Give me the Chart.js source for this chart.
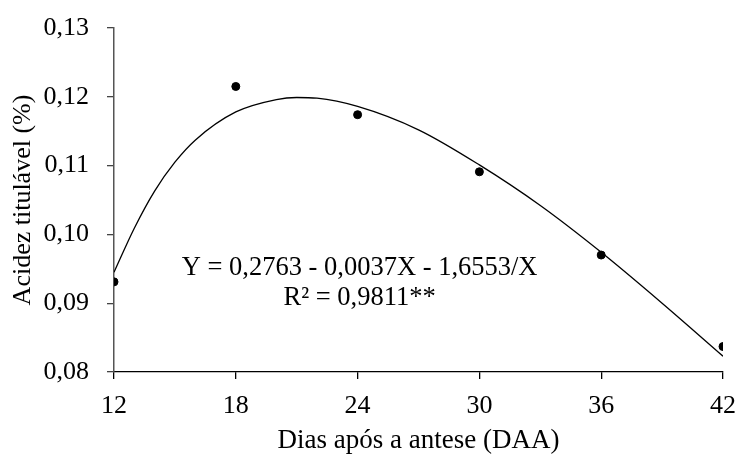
<!DOCTYPE html>
<html>
<head>
<meta charset="utf-8">
<script src="https://cdn.jsdelivr.net/npm/chart.js@4"></script>
<style>
    html, body { margin: 0; padding: 0; background: #fff; }
    #wrap { width: 740px; height: 455px; }
</style>
</head>
<body>
<div id="wrap"><canvas id="chart" width="740" height="455"></canvas></div>
<script>
// observed values
const days = [12, 18, 24, 30, 36, 42];
const acidity = [0.0931, 0.1215, 0.1174, 0.1091, 0.0970, 0.0837];

// fitted curve
const curveDays = [12, 13, 14, 15, 16, 18, 20, 21, 22, 24, 27, 30, 33, 36, 39, 42];
const curveAcidity = [0.0945, 0.1009, 0.1063, 0.1105, 0.1137, 0.1178, 0.1196, 0.1199, 0.1198, 0.1186, 0.1152, 0.1101, 0.1042, 0.0974, 0.0900, 0.0823];

const xTicks = [12, 18, 24, 30, 36, 42];
const yTicks = [0.08, 0.09, 0.10, 0.11, 0.12, 0.13];

const equationLines = ['Y = 0,2763 - 0,0037X - 1,6553/X', 'R² = 0,9811**'];

const FONT = "'Liberation Serif', 'Times New Roman', serif";

// draws the regression equation inside the plot
const equationPlugin = {
    id: 'equation',
    afterDatasetsDraw(chart) {
        const ctx = chart.ctx;
        const x = chart.scales.x.getPixelForValue(24.1);
        const y = chart.scales.y.getPixelForValue(0.0951);
        ctx.save();
        ctx.fillStyle = '#000';
        ctx.font = '26.5px ' + FONT;
        ctx.textAlign = 'center';
        ctx.textBaseline = 'middle';
        ctx.fillText(equationLines[0], x, y);
        ctx.fillText(equationLines[1], x, y + 30);
        ctx.restore();
    }
};

const ctx = document.getElementById('chart').getContext('2d');
new Chart(ctx, {
    type: 'scatter',
    data: {
        datasets: [{
            type: 'line',
            data: curveDays.map((d, i) => ({ x: d, y: curveAcidity[i] })),
            borderColor: '#000',
            borderWidth: 1.3,
            pointRadius: 0,
            tension: 0.4,
            cubicInterpolationMode: 'monotone',
            fill: false
        }, {
            data: days.map((d, i) => ({ x: d, y: acidity[i] })),
            backgroundColor: '#000',
            borderColor: '#000',
            pointRadius: 4,
            pointHoverRadius: 4
        }]
    },
    options: {
        responsive: false,
        animation: false,
        layout: { padding: { left: 0, right: 17, top: 28, bottom: 0 } },
        plugins: {
            legend: { display: false },
            tooltip: { enabled: false }
        },
        scales: {
            x: {
                type: 'linear',
                min: 12,
                max: 42,
                afterBuildTicks: axis => { axis.ticks = xTicks.map(v => ({ value: v })); },
                afterFit: axis => {
                    axis.height = 83;
                    axis.paddingRight = 0;
                    axis.paddingLeft = 0;
                },
                grid: {
                    drawOnChartArea: false,
                    drawTicks: true,
                    tickLength: 7,
                    color: '#000',
                    lineWidth: 1.3
                },
                border: { color: '#000', width: 1.3 },
                ticks: {
                    color: '#000',
                    font: { family: FONT, size: 26, lineHeight: 1 },
                    padding: 14,
                    maxRotation: 0
                },
                title: {
                    display: true,
                    text: 'Dias após a antese (DAA)',
                    color: '#000',
                    font: { family: FONT, size: 27, lineHeight: 1 },
                    padding: { top: 0, bottom: 1 }
                }
            },
            y: {
                min: 0.08,
                max: 0.13,
                afterBuildTicks: axis => { axis.ticks = yTicks.map(v => ({ value: v })); },
                afterFit: axis => {
                    axis.width = 114;
                    axis.paddingTop = 0;
                    axis.paddingBottom = 0;
                },
                grid: {
                    drawOnChartArea: false,
                    drawTicks: true,
                    tickLength: 7,
                    color: '#444',
                    lineWidth: 1.3
                },
                border: { color: '#555', width: 1.5 },
                ticks: {
                    color: '#000',
                    font: { family: FONT, size: 26, lineHeight: 1 },
                    padding: 18,
                    callback: v => v.toFixed(2).replace('.', ',')
                },
                title: {
                    display: true,
                    text: 'Acidez titulável (%)',
                    color: '#000',
                    font: { family: FONT, size: 26, lineHeight: 1 },
                    padding: { top: 10, bottom: 0 }
                }
            }
        }
    },
    plugins: [equationPlugin]
});
</script>
</body>
</html>
